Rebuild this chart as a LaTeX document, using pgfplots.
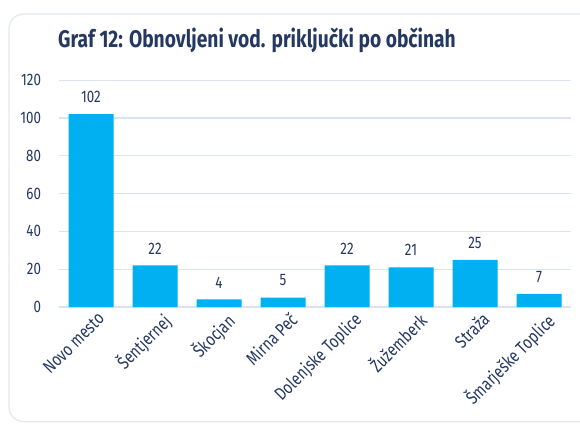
\documentclass[border=0pt]{standalone}
\usepackage{fontspec}
\setmainfont{Fira Sans}[FakeStretch=0.8]
\usepackage{pgfplots}
\pgfplotsset{compat=1.18}
\definecolor{barblue}{RGB}{0,176,240}
\definecolor{navy}{RGB}{36,56,98}
\definecolor{gridc}{RGB}{218,228,240}
\definecolor{framec}{RGB}{226,233,241}

\begin{document}
\begin{tikzpicture}
% frame and title, in pt relative to the plot area's lower left corner
\draw[framec, line width=1pt, rounded corners=11pt] (-37.5pt,-86pt) rectangle (430pt,219.75pt);
\node[navy, font=\fontsize{18}{20}\selectfont\bfseries] at (148.5pt,200pt) {Graf 12: Obnovljeni vod. priključki po občinah};
\begin{axis}[
    at={(0,0)}, anchor=south west,
    scale only axis, width=384pt, height=170.1pt,
    ybar, bar width=33.75pt,
    xmin=-0.5, xmax=7.5, ymin=0, ymax=120,
    ytick={0,20,...,120},
    xtick=data,
    xticklabels={Novo mesto, Šentjernej, Škocjan, Mirna Peč, Dolenjske Toplice,
                 Žužemberk, Straža, Šmarješke Toplice},
    x tick label style={rotate=45, anchor=north east, font=\fontsize{13.5}{14}\selectfont, text=navy, inner sep=1pt, xshift=2pt, yshift=-4pt},
    y tick label style={font=\fontsize{12.5}{14}\selectfont, text=navy, xshift=-10pt},
    /pgf/number format/assume math mode=true,
    axis line style={draw=none},
    major tick length=0pt,
    ymajorgrids, grid style={gridc, line width=1pt},
    nodes near coords,
    nodes near coords style={font=\fontsize{12.5}{14}\selectfont, text=navy, anchor=south, yshift=5pt},
    clip=false,
]
\addplot[fill=barblue, draw=none] coordinates {
    (0,102) (1,22) (2,4) (3,5) (4,22) (5,21) (6,25) (7,7)};
\end{axis}
\pgfresetboundingbox
\useasboundingbox (-44.25pt,-87.75pt) rectangle (390.75pt,230.25pt);
\end{tikzpicture}
\end{document}
